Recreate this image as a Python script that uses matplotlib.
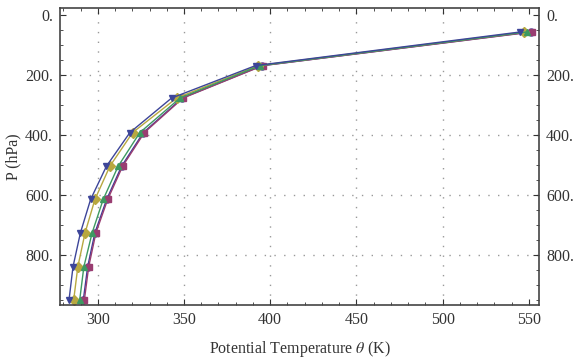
import matplotlib
matplotlib.use('Agg')
from matplotlib import pyplot as plt
from matplotlib.ticker import MultipleLocator, FixedLocator

plt.rcParams['font.family'] = ['Liberation Serif', 'DejaVu Serif']
plt.rcParams['mathtext.fontset'] = 'stix'

# pressure levels (hPa), same for every series
pressure = [950, 840, 727, 616, 505, 393, 278, 170, 58]

# potential temperature (K) per series
theta_circle = [291.6, 294.1, 298.3, 305.1, 313.8, 326.4, 349.0, 395.3, 551.0]
theta_square = [292.2, 294.7, 298.9, 305.7, 314.4, 327.0, 349.4, 395.7, 552.0]
theta_diamond = [286.0, 288.4, 292.6, 298.3, 307.0, 320.2, 345.7, 393.0, 547.5]
theta_tri_up = [289.5, 291.9, 296.7, 303.1, 311.8, 324.4, 347.7, 394.0, 549.0]
theta_tri_down = [283.3, 285.6, 289.9, 295.8, 305.0, 318.6, 342.8, 391.5, 545.0]

series = [
    (theta_circle, '#3F3D99', 'o'),
    (theta_square, '#993D71', 's'),
    (theta_diamond, '#B8A840', 'D'),
    (theta_tri_up, '#3D9961', '^'),
    (theta_tri_down, '#3D4599', 'v'),
]

fig = plt.figure(figsize=(5.76, 3.62), dpi=100)
ax = fig.add_axes([0.104, 0.157, 0.832, 0.821])

for th, c, m in series:
    ax.plot(th, pressure, color=c, lw=1.0, marker=m, ms=5, mec=c, mfc=c)

ax.set_xlim(278, 556)
ax.set_ylim(968, -22)

ax.xaxis.set_major_locator(MultipleLocator(50))
ax.xaxis.set_minor_locator(MultipleLocator(10))
ax.yaxis.set_major_locator(FixedLocator([0, 200, 400, 600, 800]))
ax.yaxis.set_minor_locator(MultipleLocator(50))
ax.set_yticklabels(['0.', '200.', '400.', '600.', '800.'])

ax.tick_params(which='both', direction='in', top=True, right=True,
               labelright=True, color='#333333', labelsize=11.5, labelcolor='#333333')
ax.tick_params(which='major', length=4, width=0.8, pad=5)
ax.tick_params(which='minor', length=2, width=0.6)

for s in ax.spines.values():
    s.set_color('#444444')
    s.set_linewidth(1.2)

for x in [300, 350, 400, 450, 500]:
    ax.axvline(x, color='#999999', lw=1.0, ls=(0, (1, 6)), zorder=0)
for y in [200, 400, 600, 800]:
    ax.axhline(y, color='#999999', lw=1.0, ls=(0, (1, 6)), zorder=0)

ax.set_xlabel(r'Potential Temperature $\theta$ (K)', fontsize=11.5, color='#333333', labelpad=8)
ax.set_ylabel('P (hPa)', fontsize=11.5, color='#333333', labelpad=3)

fig.savefig('out.png', dpi=100)
